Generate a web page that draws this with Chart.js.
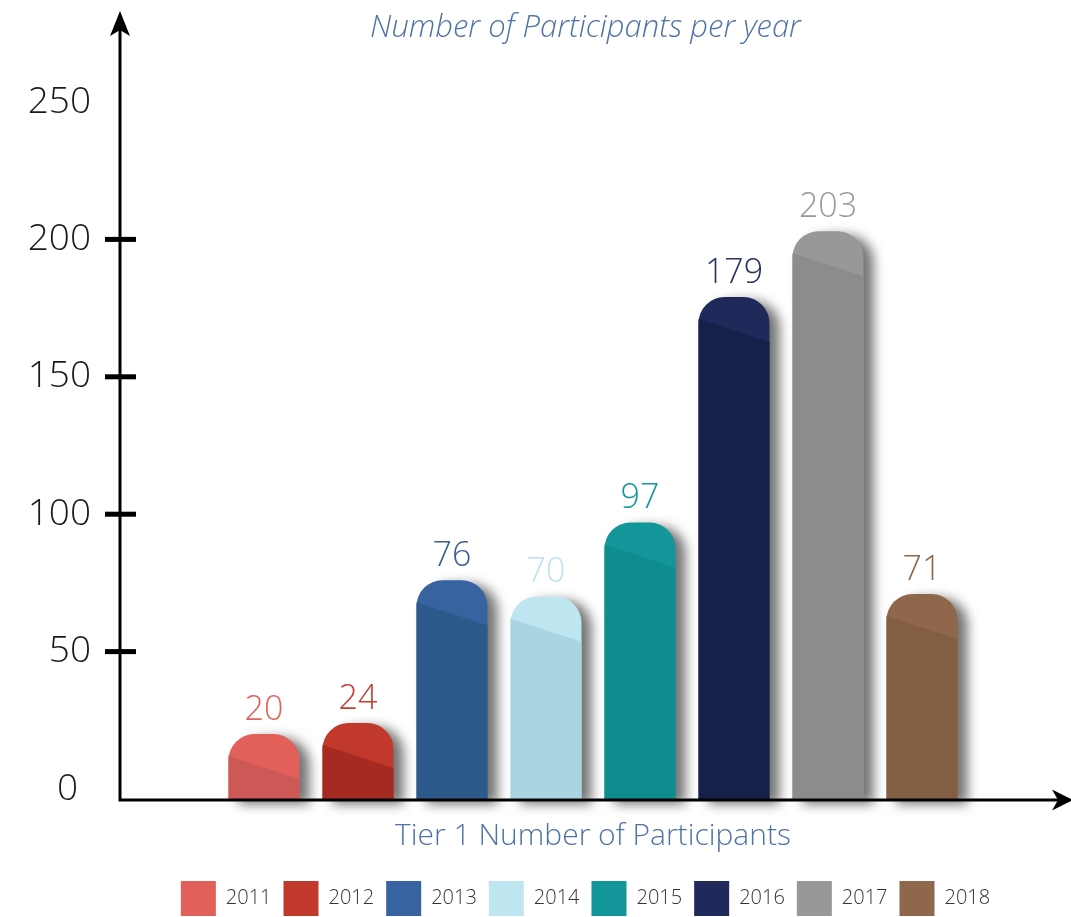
<!DOCTYPE html>
<html><head><meta charset="utf-8">
<script src="https://cdn.jsdelivr.net/npm/chart.js@4.4.0/dist/chart.umd.min.js"></script>
<style>html,body{margin:0;padding:0;background:#fff;}</style>
</head><body>
<canvas id="c" width="1071" height="917"></canvas>
<script>
const years = ['2011','2012','2013','2014','2015','2016','2017','2018'];
const participants = [20, 24, 76, 70, 97, 179, 203, 71];
const yTickValues = [0, 50, 100, 150, 200, 250];
const yTickMarks = [50, 100, 150, 200];
const capColors  = ['#E2605A','#C0392A','#3763A0','#BEE6F0','#12969A','#1F2A5A','#989898','#8F674A'];
const bodyColors = ['#CD5957','#A42A22','#2D5A8A','#AAD4E2','#0F8C8E','#16214A','#8C8C8C','#835E43'];
const labelColors = ['#E2605A','#C43D2E','#3B5F94','#BEE3EE','#13989B','#283262','#999999','#8F674A'];

const FONT = '"Open Sans", Lato, "Noto Sans", sans-serif';

const decor = {
  id: 'decor',
  beforeDatasetDraw(chart) {
    const ctx = chart.ctx;
    ctx.save();
    ctx.shadowColor = 'rgba(0,0,0,0.55)';
    ctx.shadowBlur = 12;
    ctx.shadowOffsetX = 10;
    ctx.shadowOffsetY = 4;
  },
  afterDatasetDraw(chart) {
    chart.ctx.restore();
  },
  afterDatasetsDraw(chart) {
    const ctx = chart.ctx;
    const meta = chart.getDatasetMeta(0);
    meta.data.forEach((el, i) => {
      const p = el.getProps(['x','y','base','width'], true);
      const l = p.x - p.width / 2, r = p.x + p.width / 2;
      ctx.save();
      ctx.fillStyle = bodyColors[i];
      ctx.beginPath();
      ctx.moveTo(l, p.y + 22);
      ctx.lineTo(r, p.y + 45);
      ctx.lineTo(r, p.base);
      ctx.lineTo(l, p.base);
      ctx.closePath();
      ctx.fill();
      ctx.fillStyle = labelColors[i];
      ctx.font = '300 34px ' + FONT;
      ctx.textAlign = 'center';
      ctx.textBaseline = 'middle';
      ctx.fillText(String(participants[i]), p.x, p.y - 24);
      ctx.restore();
    });
  },
  afterDraw(chart) {
    const ctx = chart.ctx;
    const y = chart.scales.y;
    const ax = chart.chartArea.left - 97;
    const ay = chart.chartArea.bottom;
    ctx.save();
    ctx.strokeStyle = '#000';
    ctx.fillStyle = '#000';
    ctx.lineWidth = 3;
    ctx.beginPath();
    ctx.moveTo(ax, ay + 1.5);
    ctx.lineTo(ax, 26);
    ctx.moveTo(ax, ay);
    ctx.lineTo(1062, ay);
    ctx.stroke();
    ctx.beginPath();
    ctx.moveTo(ax, 11);
    ctx.lineTo(ax - 10, 36);
    ctx.lineTo(ax, 30);
    ctx.lineTo(ax + 10, 36);
    ctx.closePath();
    ctx.fill();
    ctx.beginPath();
    ctx.moveTo(1073, ay);
    ctx.lineTo(1052, ay - 10.5);
    ctx.lineTo(1058, ay);
    ctx.lineTo(1052, ay + 10.5);
    ctx.closePath();
    ctx.fill();
    yTickMarks.forEach(v => {
      const py = y.getPixelForValue(v);
      ctx.fillRect(ax - 15, py - 2.5, 31, 5);
    });
    ctx.fillStyle = '#1a1a1a';
    ctx.font = '300 37px ' + FONT;
    ctx.textAlign = 'right';
    ctx.textBaseline = 'middle';
    yTickValues.forEach(v => {
      const py = y.getPixelForValue(v);
      ctx.fillText(String(v), v === 0 ? ax - 42 : ax - 29, py);
    });
    ctx.restore();
  }
};

new Chart(document.getElementById('c'), {
  type: 'bar',
  data: {
    labels: years,
    datasets: [{
      data: participants,
      backgroundColor: capColors,
      borderWidth: 0,
      borderRadius: {topLeft: 26, topRight: 26, bottomLeft: 0, bottomRight: 0},
      base: -4,
      barPercentage: 0.755,
      categoryPercentage: 1,
      clip: false
    }]
  },
  options: {
    responsive: false,
    animation: false,
    devicePixelRatio: 1,
    layout: {padding: {left: 100, right: 0, top: 0, bottom: -9}},
    plugins: {
      title: {
        display: true,
        text: 'Number of Participants per year',
        color: '#4F72A8',
        font: {family: FONT, size: 31, style: 'italic', weight: 300},
        padding: {top: 10, bottom: 54.8}
      },
      legend: {
        position: 'bottom',
        labels: {
          boxWidth: 35, boxHeight: 35, padding: 12,
          color: '#333',
          font: {family: FONT, size: 20, weight: 300},
          generateLabels: () => years.map((yr, i) => ({
            text: yr, fillStyle: capColors[i], strokeStyle: capColors[i],
            lineWidth: 0, hidden: false, index: i, fontColor: '#333'
          }))
        }
      },
      tooltip: {enabled: false}
    },
    scales: {
      x: {
        display: true,
        grid: {display: false, drawTicks: false},
        border: {display: false},
        ticks: {display: false},
        title: {
          display: true,
          text: 'Tier 1 Number of Participants',
          color: '#4F72A8',
          font: {family: FONT, size: 30, weight: 300},
          padding: {top: 18, bottom: 15}
        }
      },
      y: {
        display: true, position: 'left', min: -4, max: 250,
        grid: {display: false, drawTicks: false}, border: {display: false},
        ticks: {display: false},
        afterFit(s) { s.width = 117; }
      },
      yRight: {
        display: true, position: 'right',
        grid: {display: false, drawTicks: false}, border: {display: false},
        ticks: {display: false},
        afterFit(s) { s.width = 102; }
      }
    }
  },
  plugins: [decor]
});
</script>
</body></html>
